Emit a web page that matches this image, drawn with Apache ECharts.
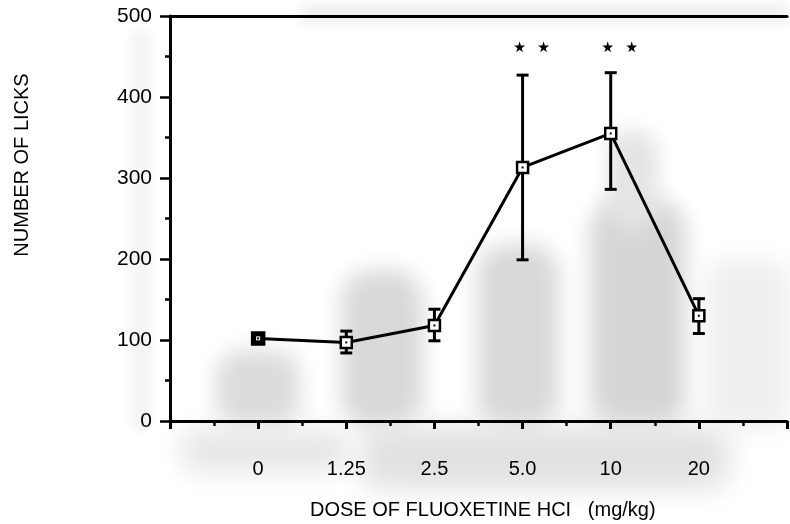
<!DOCTYPE html>
<html>
<head>
<meta charset="utf-8">
<script src="https://cdn.jsdelivr.net/npm/echarts@6/dist/echarts.min.js"></script>
<style>
  html, body { margin: 0; padding: 0; background: #ffffff; }
  #chart { width: 790px; height: 524px; }
</style>
</head>
<body>
<div id="chart"></div>
<script>
// Dose groups (mg/kg) and lick counts, mean with error bar limits
const doseLabels = ['0', '1.25', '2.5', '5.0', '10', '20'];
const meanLicks  = [102, 97, 118, 313, 355, 130];
const errUpper   = [108, 111, 138, 427, 430, 151];
const errLower   = [96, 84, 99, 199, 286, 108];
const significant = [false, false, false, true, true, false];
const yTickValues = [0, 100, 200, 300, 400, 500];
const starLevel = 462;

const FONT = '"Liberation Sans", Arial, Helvetica, sans-serif';

const chart = echarts.init(document.getElementById('chart'), null, { renderer: 'canvas' });

// Series data built from the arrays above
const idx = doseLabels.map((_, i) => i);
const lineData = idx.map(i => [i, meanLicks[i]]);
const errData = idx.map(i => [i, errLower[i], errUpper[i]]);
const markerData = idx.map(i => ({
  value: [i, meanLicks[i]],
  symbolSize: i === 0 ? 12 : 11,
  itemStyle: i === 0 ? { color: '#000', borderColor: '#000' } : undefined
}));
const starData = [];
idx.forEach(i => {
  if (significant[i]) {
    starData.push({ value: [i, starLevel], symbolOffset: [-3, 0] });
    starData.push({ value: [i, starLevel], symbolOffset: [21, 0] });
  }
});

// Soft photocopy shading behind the plot: each shape sits off-canvas and
// only its blurred shadow is cast back into view.
const SHIFT = 2000;
function blob(x, y, w, h, fill, blur, r) {
  return {
    type: 'rect', z: -10, silent: true,
    shape: { x: x + SHIFT, y: y, width: w, height: h, r: r || 20 },
    style: { fill: fill, shadowBlur: blur, shadowColor: fill, shadowOffsetX: -SHIFT, shadowOffsetY: 0 }
  };
}
const shading = [
  blob(216, 350, 84, 78, '#dcdcdc', 22, 25),
  blob(341, 270, 82, 158, '#d9d9d9', 22, 30),
  blob(477, 244, 82, 184, '#d9d9d9', 22, 30),
  blob(590, 200, 96, 228, '#d6d6d6', 22, 30),
  blob(608, 130, 50, 100, '#e4e4e4', 20, 22),
  blob(180, 428, 170, 45, '#e8e8e8', 26, 18),
  blob(360, 425, 370, 65, '#e2e2e2', 28, 22),
  blob(705, 260, 85, 170, '#efefef', 26, 20),
  blob(300, 4, 490, 20, '#f0f0f0', 12, 6),
  blob(130, 30, 22, 400, '#f5f5f5', 10, 8)
];

const option = {
  animation: false,
  backgroundColor: '#ffffff',
  grid: { left: 170, width: 627, top: 16, bottom: 103, containLabel: false },
  xAxis: [
    {
      type: 'value', min: -1, max: 6, interval: 1,
      axisLine: { show: true, onZero: false, lineStyle: { color: '#000', width: 3 } },
      axisTick: { show: true, inside: false, length: 8, lineStyle: { color: '#000', width: 3 } },
      minorTick: { show: true, splitNumber: 2, length: 5, lineStyle: { color: '#000', width: 2.5 } },
      splitLine: { show: false },
      axisLabel: {
        margin: 38,
        fontFamily: FONT, fontSize: 20, color: '#000',
        formatter: v => (v >= 0 && v < doseLabels.length) ? doseLabels[v] : ''
      }
    },
    {
      type: 'value', min: -1, max: 6, position: 'top',
      axisLine: { show: true, onZero: false, lineStyle: { color: '#000', width: 3 } },
      axisTick: { show: false }, axisLabel: { show: false }, splitLine: { show: false }
    }
  ],
  yAxis: {
    type: 'value', min: 0, max: 500, interval: 100,
    axisLine: { show: true, onZero: false, lineStyle: { color: '#000', width: 3 } },
    axisTick: { show: true, inside: false, length: 10, lineStyle: { color: '#000', width: 2.5 } },
    minorTick: { show: true, splitNumber: 2, length: 5, lineStyle: { color: '#000', width: 2.5 } },
    splitLine: { show: false },
    axisLabel: {
      margin: 18, fontFamily: FONT, fontSize: 21, color: '#000',
      formatter: v => yTickValues.indexOf(v) >= 0 ? String(v) : ''
    }
  },
  graphic: shading.concat([
    {
      type: 'text', z: 10, left: 310, top: 500,
      style: {
        text: 'DOSE OF FLUOXETINE HCI   (mg/kg)',
        font: '20px ' + FONT, fill: '#000'
      }
    },
    {
      type: 'text', z: 10, x: 22, y: 165, rotation: Math.PI / 2,
      style: {
        text: 'NUMBER OF LICKS',
        font: '20px ' + FONT, fill: '#000',
        align: 'center', verticalAlign: 'middle'
      }
    }
  ]),
  series: [
    {
      type: 'custom', name: 'error', z: 3,
      data: errData,
      renderItem: function (params, api) {
        const x = api.value(0);
        const lo = api.coord([x, api.value(1)]);
        const hi = api.coord([x, api.value(2)]);
        const cap = 6;
        const st = { stroke: '#000', lineWidth: 3 };
        return {
          type: 'group',
          children: [
            { type: 'line', shape: { x1: lo[0], y1: lo[1], x2: hi[0], y2: hi[1] }, style: st },
            { type: 'line', shape: { x1: lo[0] - cap, y1: lo[1], x2: lo[0] + cap, y2: lo[1] }, style: st },
            { type: 'line', shape: { x1: hi[0] - cap, y1: hi[1], x2: hi[0] + cap, y2: hi[1] }, style: st }
          ]
        };
      }
    },
    {
      type: 'line', name: 'mean', z: 4,
      data: lineData, symbol: 'none',
      lineStyle: { color: '#000', width: 3 }
    },
    {
      type: 'scatter', name: 'marker', z: 5,
      data: markerData, symbol: 'rect', symbolSize: 11,
      itemStyle: { color: '#fff', borderColor: '#000', borderWidth: 2.5, opacity: 1 }
    },
    {
      type: 'scatter', name: 'markerDot', z: 6,
      data: lineData, symbol: 'rect', symbolSize: 2,
      itemStyle: { color: '#000', opacity: 1 }
    },
    {
      type: 'scatter', name: 'marker0Inner', z: 6,
      data: lineData.slice(0, 1), symbol: 'rect', symbolSize: 4,
      itemStyle: { color: '#fff', opacity: 1 }
    },
    {
      type: 'scatter', name: 'marker0Dot', z: 7,
      data: lineData.slice(0, 1), symbol: 'rect', symbolSize: 2,
      itemStyle: { color: '#000', opacity: 1 }
    },
    {
      type: 'scatter', name: 'stars', z: 5,
      data: starData,
      symbol: 'path://M50,0 L61,35 L98,35 L68,57 L79,91 L50,70 L21,91 L32,57 L2,35 L39,35 Z',
      symbolSize: 11,
      itemStyle: { color: '#000', opacity: 1 }
    }
  ]
};

chart.setOption(option);
</script>
</body>
</html>
